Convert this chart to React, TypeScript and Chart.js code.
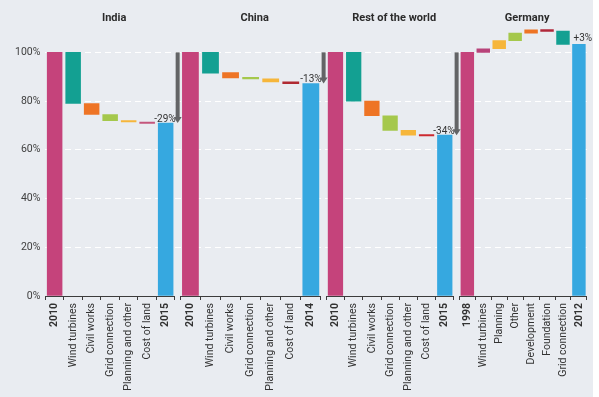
import React, { useEffect, useRef } from 'react';
import { Chart, registerables } from 'chart.js';

Chart.register(...registerables);

const FONT = "Roboto, 'Liberation Sans', Arial, sans-serif";

// ---------- data ----------
const groupTitles = ['India', 'China', 'Rest of the world', 'Germany'];

const indiaLabels = ['2010', 'Wind turbines', 'Civil works', 'Grid connection', 'Planning and other', 'Cost of land', '2015'];
const indiaBars: [number, number][] = [[0, 100], [79, 100], [74.5, 79], [72, 74.5], [71.4, 72], [70.8, 71.4], [0, 71]];

const chinaLabels = ['2010', 'Wind turbines', 'Civil works', 'Grid connection', 'Planning and other', 'Cost of land', '2014'];
const chinaBars: [number, number][] = [[0, 100], [91.5, 100], [89.5, 91.7], [89.1, 89.8], [87.9, 89.1], [87.2, 87.9], [0, 87.2]];

const rowLabels = ['2010', 'Wind turbines', 'Civil works', 'Grid connection', 'Planning and other', 'Cost of land', '2015'];
const rowBars: [number, number][] = [[0, 100], [80, 100], [74, 80], [68, 74], [66, 68], [65.7, 66.3], [0, 66]];

const germanyLabels = ['1998', 'Wind turbines', 'Planning', 'Other', 'Development', 'Foundation', 'Grid connection', '2012'];
const germanyBars: [number, number][] = [[0, 100], [100, 101.5], [101.5, 104.8], [104.8, 107.9], [107.9, 109.3], [108.6, 109.4], [103.3, 108.7], [0, 103.3]];

const yTickValues = [0, 20, 40, 60, 80, 100];

// ---------- styles ----------
const MAGENTA = '#c5437b';
const TEAL = '#13a092';
const ORANGE = '#ee7425';
const GREEN = '#a5c84c';
const YELLOW = '#f6b63b';
const BLUE = '#36a8e0';

const indiaColors = [MAGENTA, TEAL, ORANGE, GREEN, YELLOW, '#c4567c', BLUE];
const chinaColors = [MAGENTA, TEAL, ORANGE, GREEN, YELLOW, '#b02a32', BLUE];
const rowColors = [MAGENTA, TEAL, ORANGE, GREEN, YELLOW, '#cc2a30', BLUE];
const germanyColors = [MAGENTA, '#b8437a', YELLOW, GREEN, ORANGE, '#b0283a', TEAL, BLUE];

const groupLabels = [indiaLabels, chinaLabels, rowLabels, germanyLabels];
const groupBars = [indiaBars, chinaBars, rowBars, germanyBars];
const groupColors = [indiaColors, chinaColors, rowColors, germanyColors];
const groupIds = ['xIndia', 'xChina', 'xRow', 'xGermany'];
const groupWidths = [130, 141, 128, 128];
const gapWidth = 5.5;
const barFill = 0.8;

function groupScale(labels: string[], stackWeight: number, order: number) {
  return {
    type: 'category',
    axis: 'x',
    position: 'bottom',
    stack: 'groups',
    stackWeight,
    weight: order,
    labels,
    offset: true,
    grid: {
      display: true,
      drawOnChartArea: false,
      drawTicks: true,
      tickLength: 4,
      color: '#3c3c3c',
      lineWidth: 1,
      offset: true,
    },
    border: { display: true, color: '#3c3c3c', width: 1 },
    ticks: {
      autoSkip: false,
      minRotation: 90,
      maxRotation: 90,
      padding: 3,
      color: '#333333',
      font: (ctx: any) => ({
        family: FONT,
        size: 10.5,
        weight: ctx.index === 0 || ctx.index === labels.length - 1 ? 'bold' : 'normal',
      }),
    },
    afterFit: (s: any) => {
      s.height = 101;
    },
  };
}

function gapScale(order: number) {
  return {
    type: 'category',
    axis: 'x',
    position: 'bottom',
    stack: 'groups',
    stackWeight: gapWidth,
    weight: order,
    labels: [''],
    grid: { display: false },
    border: { display: false },
    ticks: { display: false },
  };
}

const overlayPlugin = {
  id: 'overlay',
  beforeDraw(chart: any) {
    const { ctx } = chart;
    ctx.save();
    ctx.fillStyle = '#e9ecf1';
    ctx.fillRect(0, 0, chart.width - 6, chart.height);
    ctx.restore();
  },
  afterDatasetsDraw(chart: any) {
    const { ctx } = chart;
    const y = chart.scales.y;
    ctx.save();
    // group titles
    groupIds.forEach((id, g) => {
      const s = chart.scales[id];
      ctx.font = `bold 11px ${FONT}`;
      ctx.fillStyle = '#2b2b2b';
      ctx.textAlign = 'center';
      ctx.textBaseline = 'middle';
      ctx.fillText(groupTitles[g], (s.left + s.right) / 2 + 4, 18);
    });
    // arrows and change labels
    groupIds.forEach((id, g) => {
      const bars = groupBars[g];
      const endVal = bars[bars.length - 1][1];
      const startVal = bars[0][1];
      const diff = Math.round(endVal - startVal);
      const meta = chart.getDatasetMeta(g);
      const last = meta.data[meta.data.length - 1];
      const yEnd = y.getPixelForValue(endVal);
      ctx.font = `10px ${FONT}`;
      ctx.fillStyle = '#333333';
      ctx.textBaseline = 'bottom';
      const text = (diff > 0 ? '+' : '') + diff + '%';
      if (diff < 0) {
        const gap = chart.scales['gap' + (g + 1)];
        const x = (gap.left + gap.right) / 2;
        const yTop = y.getPixelForValue(startVal);
        ctx.fillStyle = '#636466';
        ctx.fillRect(x - 2, yTop, 4, yEnd - yTop - 5);
        ctx.beginPath();
        ctx.moveTo(x - 4, yEnd - 6);
        ctx.lineTo(x + 4, yEnd - 6);
        ctx.lineTo(x, yEnd);
        ctx.closePath();
        ctx.fill();
        ctx.fillStyle = '#333333';
        ctx.textAlign = 'right';
        ctx.fillText(text, x - 2, yEnd + 1);
      } else {
        ctx.textAlign = 'left';
        ctx.fillText(text, last.x - last.width / 2 + 1, yEnd - 1);
      }
    });
    ctx.restore();
  },
};

export default function App() {
  const ref = useRef<HTMLCanvasElement | null>(null);

  useEffect(() => {
    if (!ref.current) return;
    const datasets = groupIds.map((id, g) => ({
      data: groupBars[g],
      xAxisID: id,
      yAxisID: 'y',
      backgroundColor: groupColors[g],
      borderWidth: 0,
      grouped: false,
      barThickness: (groupWidths[g] / groupLabels[g].length) * barFill,
    }));

    const scales: any = {
      xIndia: groupScale(indiaLabels, groupWidths[0], 1),
      gap1: gapScale(2),
      xChina: groupScale(chinaLabels, groupWidths[1], 3),
      gap2: gapScale(4),
      xRow: groupScale(rowLabels, groupWidths[2], 5),
      gap3: gapScale(6),
      xGermany: groupScale(germanyLabels, groupWidths[3], 7),
      y: {
        type: 'linear',
        position: 'left',
        min: 0,
        max: 110,
        afterBuildTicks: (s: any) => {
          s.ticks = yTickValues.map((v) => ({ value: v }));
        },
        ticks: {
          callback: (v: any) => v + '%',
          color: '#404040',
          padding: 5,
          font: { family: FONT, size: 10.5 },
        },
        grid: {
          color: (ctx: any) => (ctx.tick && ctx.tick.value === 0 ? 'rgba(0,0,0,0)' : '#ffffff'),
          lineWidth: 1,
          drawTicks: false,
        },
        border: { display: false, dash: [6, 4] },
      },
    };

    const chart = new Chart(ref.current, {
      type: 'bar',
      data: { labels: indiaLabels, datasets },
      options: {
        animation: false,
        responsive: true,
        maintainAspectRatio: false,
        layout: { padding: { left: 10, right: 12, top: 28, bottom: 0 } },
        plugins: { legend: { display: false }, tooltip: { enabled: false }, title: { display: false } },
        scales,
      } as any,
      plugins: [overlayPlugin],
    } as any);
    return () => chart.destroy();
  }, []);

  return (
    <div style={{ position: 'fixed', left: 0, top: 0, width: 599, height: 397, background: '#ffffff' }}>
      <canvas ref={ref} />
    </div>
  );
}
